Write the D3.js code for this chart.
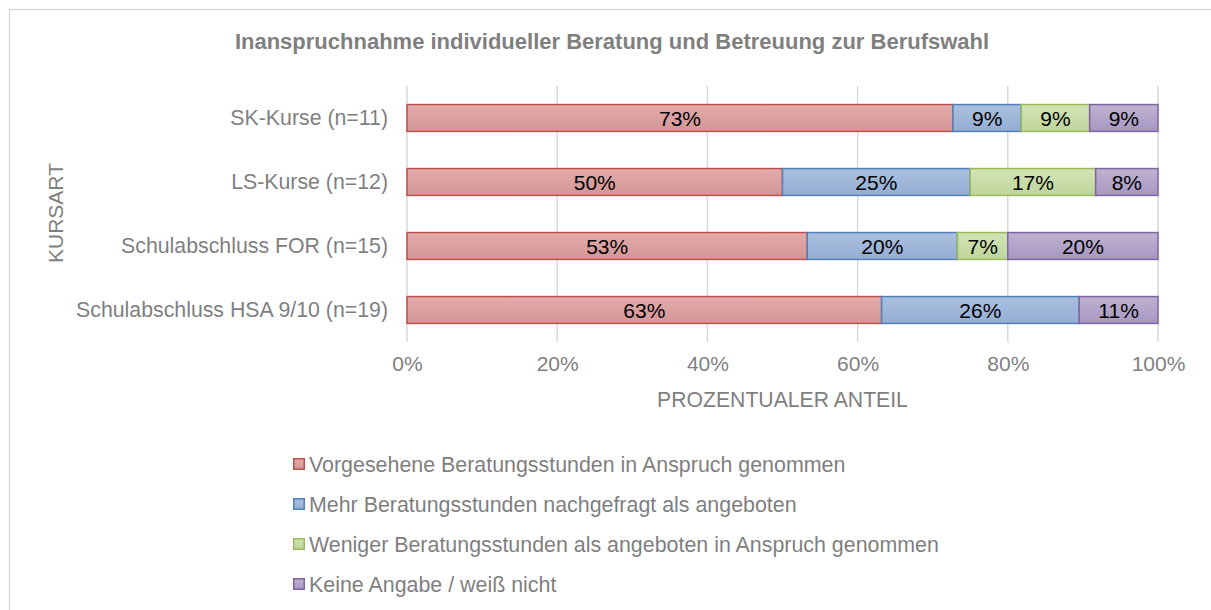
<!DOCTYPE html>
<html>
<head>
<meta charset="utf-8">
<script src="https://cdn.jsdelivr.net/npm/d3@7"></script>
<style>
  body { margin: 0; background: #fff; }
  text { font-family: "Liberation Sans", Arial, sans-serif; }
</style>
</head>
<body>
<svg id="chart" width="1211" height="610"></svg>
<script>
// Kategorien (von oben nach unten)
const categories = ["SK-Kurse (n=11)", "LS-Kurse (n=12)", "Schulabschluss FOR (n=15)", "Schulabschluss HSA 9/10 (n=19)"];
const seriesNames = [
    "Vorgesehene Beratungsstunden in Anspruch genommen",
    "Mehr Beratungsstunden nachgefragt als angeboten",
    "Weniger Beratungsstunden als angeboten in Anspruch genommen",
    "Keine Angabe / weiß nicht"
];
// Anteile in Prozent, je Kategorie
const vorgesehen = [72.7, 50.0, 53.3, 63.2];
const mehr       = [9.1, 25.0, 20.0, 26.3];
const weniger    = [9.1, 16.7, 6.7, 0];
const keine      = [9.1, 8.3, 20.0, 10.5];
const xTicks = [0, 20, 40, 60, 80, 100];

const colors = [
    {stroke: "#c0504d", top: "#e2adac", bottom: "#d49494"},
    {stroke: "#4f81bd", top: "#abc0df", bottom: "#94add3"},
    {stroke: "#9bbb59", top: "#d2e4b7", bottom: "#bed59a"},
    {stroke: "#8064a2", top: "#beb2d2", bottom: "#a797c0"}
];

const svg = d3.select("#chart");
const gray = "#7f7f7f";

// Gradienten für die Balken
const defs = svg.append("defs");
colors.forEach((c, i) => {
    const g = defs.append("linearGradient")
        .attr("id", "grad" + i)
        .attr("x1", 0).attr("y1", 0).attr("x2", 0).attr("y2", 1);
    g.append("stop").attr("offset", "0%").attr("stop-color", c.top);
    g.append("stop").attr("offset", "100%").attr("stop-color", c.bottom);
});

// Rahmen des Diagrammbereichs
svg.append("rect")
    .attr("x", 9.5).attr("y", 9.5)
    .attr("width", 1230).attr("height", 640)
    .attr("fill", "none")
    .attr("stroke", "#d9d9d9")
    .attr("stroke-width", 1.5);

// Titel
svg.append("text")
    .attr("x", 612)
    .attr("y", 49)
    .attr("text-anchor", "middle")
    .attr("font-size", 22)
    .attr("font-weight", "bold")
    .attr("fill", gray)
    .text("Inanspruchnahme individueller Beratung und Betreuung zur Berufswahl");

// Skalen
const x = d3.scaleLinear().domain([0, 100]).range([407, 1158]);
const y = d3.scaleBand()
    .domain(categories)
    .range([86, 342])
    .paddingInner(0.58)
    .paddingOuter(0.29);

// Gitterlinien
svg.append("g")
    .selectAll("line")
    .data(xTicks)
    .join("line")
    .attr("x1", d => x(d)).attr("x2", d => x(d))
    .attr("y1", 86).attr("y2", 342)
    .attr("stroke", "#d9d9d9")
    .attr("stroke-width", 1.5);

// X-Achse (nur Beschriftungen)
const xAxis = svg.append("g")
    .attr("transform", "translate(0,342)")
    .call(d3.axisBottom(x).tickValues(xTicks).tickFormat(d => d + "%").tickSize(0).tickPadding(14));
xAxis.select(".domain").remove();
xAxis.selectAll("text")
    .attr("font-family", "Liberation Sans, Arial, sans-serif")
    .attr("font-size", 21)
    .attr("fill", gray);

// Y-Achse (nur Beschriftungen)
const yAxis = svg.append("g")
    .attr("transform", "translate(407,0)")
    .call(d3.axisLeft(y).tickSize(0).tickPadding(19));
yAxis.select(".domain").remove();
yAxis.selectAll("text")
    .attr("font-family", "Liberation Sans, Arial, sans-serif")
    .attr("font-size", 21.3)
    .attr("fill", gray);

// Gestapelte Daten
const rows = categories.map((c, i) => ({
    cat: c,
    values: [vorgesehen[i], mehr[i], weniger[i], keine[i]]
}));

const segments = [];
rows.forEach(r => {
    let acc = 0;
    r.values.forEach((v, k) => {
        segments.push({cat: r.cat, k: k, x0: acc, x1: acc + v, v: v});
        acc += v;
    });
});

const barGroup = svg.append("g");
barGroup.selectAll("rect")
    .data(segments.filter(d => d.v > 0))
    .join("rect")
    .attr("x", d => x(d.x0))
    .attr("y", d => y(d.cat))
    .attr("width", d => x(d.x1) - x(d.x0))
    .attr("height", y.bandwidth())
    .attr("fill", d => `url(#grad${d.k})`)
    .attr("stroke", d => colors[d.k].stroke)
    .attr("stroke-width", 1.5);

// Datenbeschriftungen
barGroup.selectAll("text")
    .data(segments.filter(d => d.v > 0))
    .join("text")
    .attr("x", d => (x(d.x0) + x(d.x1)) / 2)
    .attr("y", d => y(d.cat) + y.bandwidth() / 2)
    .attr("dy", "0.36em")
    .attr("text-anchor", "middle")
    .attr("font-size", 21)
    .attr("fill", "#000")
    .text(d => Math.round(d.v) + "%");

// Achsentitel
svg.append("text")
    .attr("x", (x(0) + x(100)) / 2)
    .attr("y", 407)
    .attr("text-anchor", "middle")
    .attr("font-size", 21.2)
    .attr("fill", gray)
    .text("PROZENTUALER ANTEIL");

svg.append("text")
    .attr("transform", "translate(63,213) rotate(-90)")
    .attr("text-anchor", "middle")
    .attr("font-size", 21)
    .attr("fill", gray)
    .text("KURSART");

// Legende
const legend = svg.append("g");
const legendItem = legend.selectAll("g")
    .data(seriesNames)
    .join("g")
    .attr("transform", (d, i) => `translate(293,${464 + i * 40})`);

legendItem.append("rect")
    .attr("x", 0.75).attr("y", -5.25)
    .attr("width", 10.5).attr("height", 10.5)
    .attr("fill", (d, i) => `url(#grad${i})`)
    .attr("stroke", (d, i) => colors[i].stroke)
    .attr("stroke-width", 1.5);

legendItem.append("text")
    .attr("x", 16)
    .attr("dy", "0.36em")
    .attr("font-size", 21.4)
    .attr("fill", gray)
    .text(d => d);
</script>
</body>
</html>
